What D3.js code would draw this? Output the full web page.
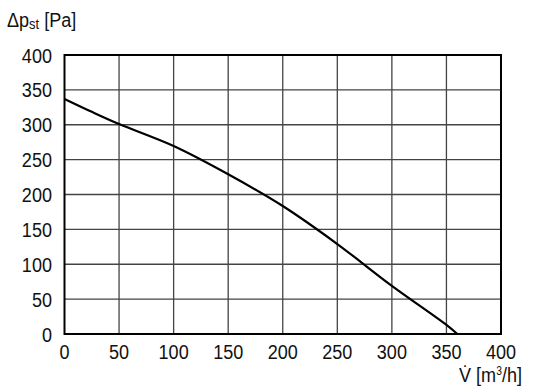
<!DOCTYPE html>
<html>
<head>
<meta charset="utf-8">
<script src="https://cdn.jsdelivr.net/npm/d3@7"></script>
<style>
  body { margin: 0; background: #fff; }
  text { font-family: "Liberation Sans", Arial, sans-serif; fill: #111; }
</style>
</head>
<body>
<div id="chart"></div>
<script>
'use strict';

// data
const flow     = [0, 25, 50, 100, 150, 200, 250, 300, 350, 360]
const pressure = [337, 318.5, 301, 269.5, 229, 183.5, 129, 69, 13, 0]
const xTicks   = [0, 50, 100, 150, 200, 250, 300, 350, 400]
const yTicks   = [0, 50, 100, 150, 200, 250, 300, 350, 400]

const width    = 536
const height   = 390
const padLeft  = 64.5
const padRight = 501
const padTop   = 55
const padBot   = 334
const squeeze  = 0.86 // condensed look of the original lettering

var svg = d3.select('#chart').append('svg')
    .attr('width', width)
    .attr('height', height)

var x = d3.scaleLinear().domain([0, 400]).range([padLeft, padRight])
var y = d3.scaleLinear().domain([0, 400]).range([padBot, padTop])

// grid
svg.append('g').selectAll('line')
    .data(xTicks.slice(1, -1))
    .enter().append('line')
    .attr('x1', d => x(d)).attr('x2', d => x(d))
    .attr('y1', padTop).attr('y2', padBot)
    .attr('stroke', '#444').attr('stroke-width', 1.3)

svg.append('g').selectAll('line')
    .data(yTicks.slice(1, -1))
    .enter().append('line')
    .attr('y1', d => y(d)).attr('y2', d => y(d))
    .attr('x1', padLeft).attr('x2', padRight)
    .attr('stroke', '#444').attr('stroke-width', 1.3)

// frame
svg.append('rect')
    .attr('x', padLeft).attr('y', padTop)
    .attr('width', padRight - padLeft).attr('height', padBot - padTop)
    .attr('fill', 'none').attr('stroke', '#000').attr('stroke-width', 2)

// curve
var line = d3.line()
    .x((d, i) => x(flow[i]))
    .y(d => y(d))
    .curve(d3.curveCatmullRom.alpha(0.5))

svg.append('path')
    .datum(pressure)
    .attr('d', line)
    .attr('fill', 'none')
    .attr('stroke', '#000')
    .attr('stroke-width', 2.2)

// tick labels
svg.append('g').selectAll('text')
    .data(xTicks)
    .enter().append('text')
    .attr('transform', d => 'translate(' + x(d) + ',359) scale(' + squeeze + ',1)')
    .attr('text-anchor', 'middle')
    .attr('font-size', 21)
    .text(d => d)

svg.append('g').selectAll('text')
    .data(yTicks)
    .enter().append('text')
    .attr('transform', d => 'translate(52,' + y(d) + ') scale(' + squeeze + ',1)')
    .attr('dy', '0.36em')
    .attr('text-anchor', 'end')
    .attr('font-size', 21)
    .text(d => d)

// axis titles
var yt = svg.append('text')
    .attr('transform', 'translate(7,27) scale(' + squeeze + ',1)')
    .attr('font-size', 21)
yt.append('tspan').text('Δp')
yt.append('tspan').attr('font-size', 15).attr('dy', 2).text('st')
yt.append('tspan').attr('dy', -2).text(' [Pa]')

var xt = svg.append('text')
    .attr('transform', 'translate(522,382) scale(' + squeeze + ',1)')
    .attr('text-anchor', 'end')
    .attr('font-size', 21)
xt.append('tspan').text('V̇ [m')
xt.append('tspan').attr('font-size', 12).attr('dy', -7).text('3')
xt.append('tspan').attr('dy', 7).text('/h]')
</script>
</body>
</html>
